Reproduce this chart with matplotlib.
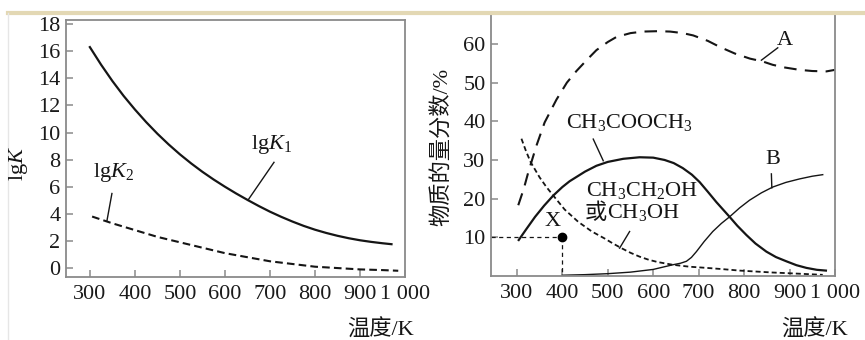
import numpy as np
import matplotlib
matplotlib.use("Agg")
import matplotlib.pyplot as plt

plt.rcParams['font.family'] = ['Liberation Serif', 'Noto Sans CJK SC']
plt.rcParams['mathtext.fontset'] = 'custom'
plt.rcParams['mathtext.rm'] = 'Liberation Serif'
plt.rcParams['mathtext.it'] = 'Liberation Serif:italic'
plt.rcParams['lines.scale_dashes'] = False

# ---- left panel data: lgK vs T ----
t_k1 = [300, 325, 350, 375, 400, 425, 450, 475, 500, 525, 550, 575, 600, 625, 650, 675,
        700, 725, 750, 775, 800, 825, 850, 875, 900, 925, 950, 970]
lgk1 = [16.3, 15.0, 13.8, 12.7, 11.7, 10.77, 9.91, 9.12, 8.39, 7.72, 7.10, 6.53, 6.0,
        5.5, 5.03, 4.58, 4.16, 3.78, 3.43, 3.11, 2.83, 2.59, 2.38, 2.20, 2.05, 1.93,
        1.83, 1.76]
t_k2 = [305, 350, 400, 450, 500, 550, 600, 650, 700, 750, 800, 850, 900, 950, 985]
lgk2 = [3.8, 3.3, 2.8, 2.3, 1.9, 1.5, 1.1, 0.8, 0.5, 0.3, 0.1, 0.0, -0.1, -0.15, -0.2]

# ---- right panel data: mole fraction (%) vs T ----
t_a = [303, 315, 325, 343, 361, 387, 410, 431, 455, 475, 500, 519, 550, 578, 610,
       637, 665, 688, 720, 747, 780, 813, 840, 863, 890, 922, 950, 981, 1000]
frac_a = [18.3, 22.5, 26.8, 33.7, 39.7, 45.6, 50.0, 53.0, 56.0, 58.4, 60.5, 61.8, 62.8,
          63.2, 63.3, 63.2, 62.8, 62.2, 60.8, 59.2, 57.5, 56.2, 55.5, 54.6, 53.9, 53.3,
          53.0, 52.9, 53.3]
t_ester = [304, 320, 340, 360, 380, 400, 416, 450, 475, 500, 534, 570, 600, 625, 645,
           665, 685, 702, 720, 739, 755, 768, 785, 805, 825, 849, 870, 893, 915, 937,
           960, 980]
frac_ester = [9.3, 12.0, 15.3, 18.2, 20.8, 23.0, 24.5, 27.0, 28.5, 29.5, 30.3, 30.7, 30.6,
              30.0, 29.2, 27.9, 26.2, 24.3, 21.8, 19.1, 17.0, 15.3, 13.0, 10.6, 8.4, 6.3,
              4.9, 3.8, 2.8, 2.1, 1.6, 1.4]
t_alc = [310, 320, 330, 350, 365, 380, 405, 435, 465, 493, 510, 530, 550, 570, 590, 610,
         643, 680, 717, 750, 790, 863, 920, 973]
frac_alc = [35.5, 32.3, 29.5, 25.5, 23.0, 20.8, 17.2, 14.0, 11.5, 9.7, 8.5, 7.2, 6.0, 5.0,
            4.2, 3.6, 2.9, 2.4, 2.1, 1.8, 1.4, 0.9, 0.6, 0.3]
t_b = [400, 450, 500, 550, 600, 643, 660, 673, 684, 695, 712, 731, 750, 768, 790, 812,
       838, 863, 892, 922, 950, 973]
frac_b = [0.2, 0.35, 0.6, 1.0, 1.7, 2.9, 3.3, 3.8, 4.8, 6.3, 8.9, 11.5, 13.6, 15.3, 17.6,
          19.6, 21.5, 23.0, 24.2, 25.1, 25.8, 26.2]
point_x = (400, 10)

xticks = [300, 400, 500, 600, 700, 800, 900, 1000]
xticklabels = ['300', '400', '500', '600', '700', '800', '900', '1 000']

W, H = 865, 340
fig = plt.figure(figsize=(W / 100, H / 100), dpi=100)


def px_axes(x0, y0, x1, y1):
    return fig.add_axes([x0 / W, 1 - y1 / H, (x1 - x0) / W, (y1 - y0) / H])


spine_c = '#8a8a8a'
ink = '#151515'
fs = 16


def style(ax):
    for s in ax.spines.values():
        s.set_color(spine_c)
        s.set_linewidth(1.3)
    ax.tick_params(direction='in', length=5, width=1.1, color=spine_c,
                   labelsize=fs, labelcolor='#1a1a1a')
    ax.tick_params(axis='x', pad=6)
    ax.tick_params(axis='y', pad=4)
    ax.set_xticks(xticks)
    ax.set_xticklabels(xticklabels)


# left panel
ax1 = px_axes(66, 20, 405, 277)
style(ax1)
ax1.set_xlim(247, 1000)
ax1.set_ylim(-0.66, 18.3)
ax1.set_yticks(range(0, 19, 2))
ax1.plot(t_k1, lgk1, color=ink, lw=1.6)
ax1.plot(t_k2, lgk2, color=ink, lw=1.5, dashes=(5.5, 3))
ax1.text(703, 9.1, r'lg$K_1$', fontsize=fs, ha='center', va='center', color=ink)
ax1.plot([709, 651], [7.8, 5.0], color=ink, lw=1)
ax1.text(352, 7.05, r'lg$K_2$', fontsize=fs, ha='center', va='center', color=ink)
ax1.plot([349, 338], [5.5, 3.5], color=ink, lw=1)

# right panel
ax2 = px_axes(491, 13, 835, 276)
style(ax2)
ax2.set_xlim(243, 1000)
ax2.set_ylim(0, 68)
ax2.set_yticks(range(10, 61, 10))
ax2.plot(t_a, frac_a, color=ink, lw=1.5, dashes=(9, 6))
ax2.plot(t_ester, frac_ester, color=ink, lw=1.6)
ax2.plot(t_alc, frac_alc, color=ink, lw=1.3, dashes=(3.6, 2.2))
ax2.plot(t_b, frac_b, color=ink, lw=1.0)
ax2.plot([243, point_x[0]], [point_x[1], point_x[1]], color=ink, lw=0.9, dashes=(3, 2.5))
ax2.plot([point_x[0], point_x[0]], [point_x[1], 0], color=ink, lw=0.9, dashes=(3, 2.5))
ax2.plot([point_x[0]], [point_x[1]], 'o', color='black', ms=6)
ax2.text(378, 14.0, 'X', fontsize=fs, ha='center', va='center', color=ink)

ax2.text(889, 60.8, 'A', fontsize=fs, ha='center', va='center', color=ink)
ax2.plot([874, 838], [59.0, 55.8], color=ink, lw=1)
ax2.text(863, 30.0, 'B', fontsize=fs, ha='center', va='center', color=ink)
ax2.plot([860, 861], [26.4, 22.8], color=ink, lw=1)
ax2.text(547, 39.7, r'CH$_3$COOCH$_3$', fontsize=fs, ha='center', va='center', color=ink)
ax2.plot([468, 490], [35.4, 29.8], color=ink, lw=1)
ax2.text(576, 22.2, r'CH$_3$CH$_2$OH', fontsize=fs, ha='center', va='center', color=ink)
ax2.text(498, 16.3, '或', fontsize=fs, ha='right', va='center', color=ink,
         family=['Noto Sans CJK SC'])
ax2.text(498, 16.3, r'CH$_3$OH', fontsize=fs, ha='left', va='center', color=ink)
ax2.plot([548, 526], [11.5, 7.2], color=ink, lw=1)

# axis titles
fig.text(18 / W, 1 - 163 / H, r'lg$K$', fontsize=fs, rotation=90, ha='center',
         va='center', color=ink)
fig.text(443 / W, 1 - 147 / H, '物质的量分数/%', fontsize=fs, rotation=90, ha='center',
         va='center', color=ink)
fig.text(381 / W, 1 - 330 / H, '温度/K', fontsize=fs, ha='center', va='center', color=ink)
fig.text(815 / W, 1 - 330 / H, '温度/K', fontsize=fs, ha='center', va='center', color=ink)

# page decoration: beige rule at the top, faint left border
fig.add_artist(plt.Line2D([8 / W, 1], [1 - 13 / H, 1 - 13 / H], color='#e3d8b4', lw=3))
fig.add_artist(plt.Line2D([8 / W, 8 / W], [0, 1 - 13 / H], color='#e6e6e6', lw=1))

fig.savefig('out.png', dpi=100)
